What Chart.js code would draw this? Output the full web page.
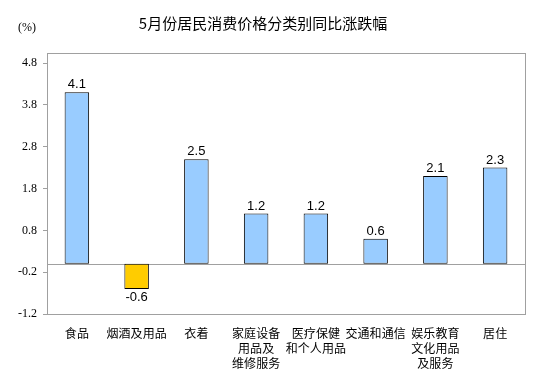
<!DOCTYPE html>
<html>
<head>
<meta charset="utf-8">
<script src="https://cdn.jsdelivr.net/npm/chart.js@4.4.0/dist/chart.umd.min.js"></script>
<style>
  html, body { margin: 0; padding: 0; background: #fff; }
  #wrap { position: relative; width: 543px; height: 389px; }
</style>
</head>
<body>
<div id="wrap"><canvas id="myChart" width="543" height="389"></canvas></div>
<script>
// data
const categories = [
  ["食品"],
  ["烟酒及用品"],
  ["衣着"],
  ["家庭设备", "用品及", "维修服务"],
  ["医疗保健", "和个人用品"],
  ["交通和通信"],
  ["娱乐教育", "文化用品", "及服务"],
  ["居住"]
];
const values = [4.1, -0.6, 2.5, 1.2, 1.2, 0.6, 2.1, 2.3];
const yTicks = [-1.2, -0.2, 0.8, 1.8, 2.8, 3.8, 4.8];
const titleText = "5月份居民消费价格分类别同比涨跌幅";
const unitText = "(%)";

const boxColor = "#a0a0a0";

const framePlugin = {
  id: "frame",
  beforeDatasetsDraw(chart) {
    const ctx = chart.ctx;
    const a = chart.chartArea;
    const y0 = chart.scales.y.getPixelForValue(0);
    ctx.save();
    ctx.strokeStyle = boxColor;
    ctx.lineWidth = 1;
    ctx.strokeRect(Math.round(a.left) + 0.5, Math.round(a.top) + 0.5,
      Math.round(a.right - a.left), Math.round(a.bottom - a.top));
    ctx.beginPath();
    ctx.moveTo(a.left, Math.round(y0) + 0.5);
    ctx.lineTo(a.right, Math.round(y0) + 0.5);
    ctx.stroke();
    ctx.restore();
  },
  afterDraw(chart) {
    const ctx = chart.ctx;
    ctx.save();
    ctx.fillStyle = "#000";
    ctx.font = '15px "Noto Sans CJK SC"';
    ctx.textAlign = "center";
    ctx.textBaseline = "middle";
    ctx.fillText(titleText, 263, 23);
    ctx.font = '12px "Liberation Serif"';
    ctx.textAlign = "left";
    ctx.fillText(unitText, 18, 28);
    ctx.restore();
  }
};

const valueLabels = {
  id: "valueLabels",
  afterDatasetsDraw(chart) {
    const ctx = chart.ctx;
    const meta = chart.getDatasetMeta(0);
    ctx.save();
    ctx.fillStyle = "#000";
    ctx.font = '13px "Liberation Sans"';
    ctx.textAlign = "center";
    meta.data.forEach((bar, i) => {
      const v = values[i];
      if (v >= 0) {
        ctx.textBaseline = "bottom";
        ctx.fillText(v.toFixed(1), bar.x, bar.y - 1);
      } else {
        ctx.textBaseline = "top";
        ctx.fillText(v.toFixed(1), bar.x, bar.y + 2);
      }
    });
    ctx.restore();
  }
};

const ctx = document.getElementById("myChart").getContext("2d");
const myChart = new Chart(ctx, {
  type: "bar",
  data: {
    labels: categories,
    datasets: [
      {
        data: values,
        backgroundColor: values.map((v) => (v < 0 ? "#FFCC00" : "#99CCFF")),
        borderColor: "#000",
        borderWidth: 1,
        borderSkipped: false,
        barPercentage: 0.41,
        categoryPercentage: 1,
      },
    ],
  },
  options: {
    responsive: false,
    animation: false,
    layout: { padding: { top: 53, right: 18, bottom: 0, left: 0 } },
    plugins: {
      legend: { display: false },
      title: { display: false },
      tooltip: { enabled: false },
    },
    scales: {
      x: {
        grid: { display: false, drawTicks: false },
        border: { display: false },
        ticks: {
          color: "#000",
          font: { family: '"Noto Sans CJK SC"', size: 12, lineHeight: 1.25 },
          padding: 12,
          maxRotation: 0,
          autoSkip: false,
        },
        afterFit(scale) { scale.height = 75; },
      },
      y: {
        min: -1.2,
        max: 5.04,
        afterBuildTicks(scale) {
          scale.ticks = yTicks.map((v) => ({ value: v }));
        },
        grid: { drawOnChartArea: false, drawTicks: true, tickLength: 4, color: boxColor },
        border: { display: false },
        ticks: {
          color: "#000",
          font: { family: '"Liberation Serif"', size: 12 },
          padding: 6,
          callback: (v) => v.toFixed(1),
        },
        afterFit(scale) { scale.width = 47; },
      },
    },
  },
  plugins: [framePlugin, valueLabels],
});
</script>
</body>
</html>
